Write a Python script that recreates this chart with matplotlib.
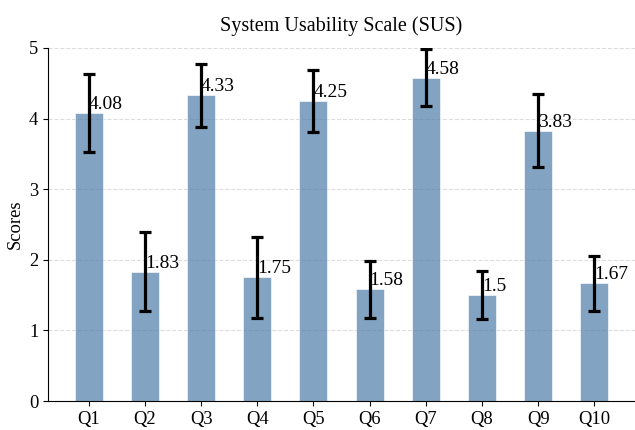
import matplotlib
matplotlib.use('Agg')
import matplotlib.pyplot as plt
import numpy as np

plt.rcParams['font.family'] = ['Liberation Serif', 'DejaVu Serif']

questions = ['Q1', 'Q2', 'Q3', 'Q4', 'Q5', 'Q6', 'Q7', 'Q8', 'Q9', 'Q10']
means = [4.08, 1.83, 4.33, 1.75, 4.25, 1.58, 4.58, 1.5, 3.83, 1.67]
stds = [0.55, 0.56, 0.45, 0.57, 0.44, 0.40, 0.40, 0.34, 0.52, 0.39]
value_labels = ['4.08', '1.83', '4.33', '1.75', '4.25', '1.58', '4.58', '1.5', '3.83', '1.67']

fig = plt.figure(figsize=(6.35, 4.3), dpi=100)
ax = fig.add_axes([48 / 635, 29 / 430, 587 / 635, 353 / 430])

x = np.arange(len(questions))
ax.bar(x, means, width=0.5, color='#4f7da8', alpha=0.7, edgecolor='white', linewidth=0.6,
       yerr=stds, capsize=4, error_kw={'elinewidth': 2.3, 'capthick': 2.3, 'ecolor': 'black'})
ax.yaxis.grid(True, linestyle='--', color='#dddddd', linewidth=0.8)
ax.set_axisbelow(True)

for xi, m, lab in zip(x, means, value_labels):
    ax.text(xi, m, lab, ha='left', va='bottom', fontsize=14)

ax.set_ylim(0, 5)
ax.set_xticks(x)
ax.set_xticklabels(questions, fontsize=13.3)
ax.tick_params(axis='y', labelsize=13.3)
ax.set_ylabel('Scores', fontsize=13.3)
ax.set_title('System Usability Scale (SUS)', fontsize=14.5, pad=12)
ax.spines['top'].set_visible(False)
ax.spines['right'].set_visible(False)

plt.savefig('out.png', dpi=100)
